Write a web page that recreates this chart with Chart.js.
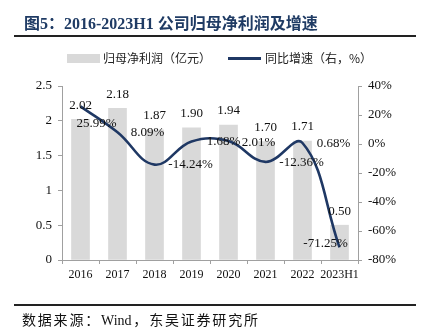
<!DOCTYPE html>
<html>
<head>
<meta charset="utf-8">
<script src="https://cdn.jsdelivr.net/npm/chart.js@4/dist/chart.umd.min.js"></script>
<style>
    body { margin: 0; background: #fff; width: 423px; height: 330px; position: relative; overflow: hidden; }
    #chart { position: absolute; left: 0; top: 0; }
    .title { position: absolute; left: 24px; top: 10px; font: bold 16px "Liberation Serif", "Noto Sans CJK SC", serif; color: #1f3b64; white-space: nowrap; }
    .rule { position: absolute; left: 14px; width: 402px; height: 2px; background: #222; }
    .legend { position: absolute; top: 50px; left: 0; width: 423px; font: 12px "Noto Sans CJK SC", sans-serif; color: #222; white-space: nowrap; }
    .legend span { position: absolute; top: 0; line-height: 16px; }
    .swatch-bar { position: absolute; left: 67px; top: 54px; width: 33px; height: 9px; background: #d9d9d9; }
    .swatch-line { position: absolute; left: 228px; top: 57px; width: 33px; height: 3px; background: #1f3864; }
    .source { position: absolute; left: 22px; top: 309px; font: 14px "Liberation Serif", "Noto Sans CJK SC", serif; letter-spacing: 1.8px; color: #111; white-space: nowrap; }
    .source .latin { letter-spacing: 0; margin-right: 1.8px; }
</style>
</head>
<body>
<canvas id="chart" width="423" height="330"></canvas>
<div class="title">图5：2016-2023H1 公司归母净利润及增速</div>
<div class="rule" style="top:35px"></div>
<div class="swatch-bar"></div>
<div class="swatch-line"></div>
<div class="legend">
    <span style="left:103px">归母净利润（亿元）</span>
    <span style="left:265px">同比增速（右，%）</span>
</div>
<div class="rule" style="top:304px"></div>
<div class="source">数据来源：<span class="latin">Wind</span>，东吴证券研究所</div>
<script>
// 数据
const years = ['2016', '2017', '2018', '2019', '2020', '2021', '2022', '2023H1'];
const netProfit = [2.02, 2.18, 1.87, 1.90, 1.94, 1.70, 1.71, 0.50];
const growth = [25.99, 8.09, -14.24, 1.68, 2.01, -12.36, 0.68, -71.25];
const leftTicks = [0, 0.5, 1, 1.5, 2, 2.5];
const rightTicks = [-80, -60, -40, -20, 0, 20, 40];

// 折线标签相对数据点的偏移（中心点）
const growthLabelShift = [[16, 17], [30, 0], [36, 0], [32, 0], [30, 1], [36, 1], [31, 1], [-14, -4]];

const serif = '"Liberation Serif", "Times New Roman", serif';
const axisColor = '#a0a0a0';

const valueLabels = {
    id: 'valueLabels',
    afterDatasetsDraw(chart) {
        const ctx = chart.ctx;
        ctx.save();
        ctx.font = '13px ' + serif;
        ctx.fillStyle = '#111';
        ctx.textAlign = 'center';
        ctx.textBaseline = 'middle';
        chart.getDatasetMeta(0).data.forEach((bar, i) => {
            ctx.fillText(netProfit[i].toFixed(2), bar.x, bar.y - 14);
        });
        chart.getDatasetMeta(1).data.forEach((pt, i) => {
            const s = growthLabelShift[i];
            ctx.fillText(growth[i].toFixed(2) + '%', pt.x + s[0], pt.y + s[1]);
        });
        ctx.restore();
    }
};

new Chart(document.getElementById('chart'), {
    data: {
        labels: years,
        datasets: [{
            type: 'bar',
            label: '归母净利润（亿元）',
            data: netProfit,
            backgroundColor: '#d9d9d9',
            barThickness: 18,
            yAxisID: 'y',
            order: 2
        }, {
            type: 'line',
            label: '同比增速（右，%）',
            data: growth,
            borderColor: '#1f3864',
            borderWidth: 2.6,
            pointRadius: 0,
            tension: 0.4,
            yAxisID: 'y1',
            order: 1
        }]
    },
    options: {
        responsive: false,
        animation: false,
        layout: { padding: { top: 86, left: 0, right: 0, bottom: 0 } },
        plugins: {
            legend: { display: false },
            tooltip: { enabled: false }
        },
        scales: {
            x: {
                afterFit: function(scale) { scale.height = 70; },
                grid: { drawOnChartArea: false, tickLength: 4, color: axisColor },
                border: { color: axisColor },
                ticks: { font: { family: serif, size: 12 }, color: '#111', padding: 4, maxRotation: 0, autoSkip: false }
            },
            y: {
                position: 'left',
                min: 0,
                max: 2.5,
                afterFit: function(scale) { scale.width = 62; },
                afterBuildTicks: function(scale) { scale.ticks = leftTicks.map(v => ({ value: v })); },
                grid: { drawOnChartArea: false, tickLength: 4, color: axisColor },
                border: { color: axisColor },
                ticks: { font: { family: serif, size: 13 }, color: '#111', padding: 6, callback: v => String(v) }
            },
            y1: {
                position: 'right',
                min: -80,
                max: 40,
                afterFit: function(scale) { scale.width = 65; },
                afterBuildTicks: function(scale) { scale.ticks = rightTicks.map(v => ({ value: v })); },
                grid: { drawOnChartArea: false, tickLength: 4, color: axisColor },
                border: { color: axisColor },
                ticks: { font: { family: serif, size: 13 }, color: '#111', padding: 6, callback: v => v + '%' }
            }
        }
    },
    plugins: [valueLabels]
});
</script>
</body>
</html>
